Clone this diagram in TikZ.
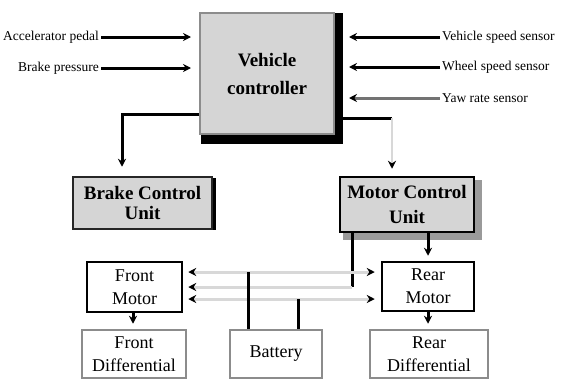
\documentclass[tikz,border=0pt]{standalone}
\usepackage{fontspec}
\setmainfont{Liberation Serif}
\usetikzlibrary{arrows.meta}

\definecolor{boxfill}{HTML}{D5D5D5}
\definecolor{edgegray}{HTML}{8C8C8C}
\definecolor{busgray}{HTML}{D8D8D8}
\definecolor{shadowgray}{HTML}{9A9A9A}

\begin{document}
\begin{tikzpicture}[x=1pt,y=-1pt,
  sidelabel/.style={font=\fontsize{13.5}{16}\selectfont, inner sep=2pt},
  unitbox/.style={fill=boxfill, align=center, inner sep=0pt,
    font=\bfseries\fontsize{19}{20}\selectfont},
  partbox/.style={fill=white, line width=2.5pt, align=center, inner sep=0pt,
    font=\fontsize{18}{23}\selectfont},
  tipend/.tip={Stealth[length=8pt,width=8pt,color=black]},
  sig/.style={line width=3pt, -tipend},
  bus/.style={line width=3pt, draw=busgray},
]
\useasboundingbox (0,0) rectangle (565,383);

% ---- central controller with bevelled edge ----
\node[unitbox, draw=edgegray, line width=2pt, minimum width=134pt, minimum height=121pt,
      font=\bfseries\fontsize{19}{28}\selectfont] (ctrl) at (267,73.5) {Vehicle\\controller};
\fill[black] ([yshift=-1pt]ctrl.north east) rectangle ([xshift=8pt,yshift=-9pt]ctrl.south east);
\fill[black] ([xshift=2pt]ctrl.south west) rectangle ([xshift=8pt,yshift=-9pt]ctrl.south east);

% ---- control units ----
\node[unitbox, draw=black!85, line width=2.5pt, minimum width=139pt, minimum height=52pt] (bcu) at (142.5,203) {Brake Control\\Unit};
\fill[black] ([xshift=-0.5pt,yshift=-2pt]bcu.north east) rectangle ([xshift=3pt]bcu.south east);

\node[unitbox, draw=black, line width=2.5pt, minimum width=134pt, minimum height=55pt,
      font=\bfseries\fontsize{19}{25}\selectfont] (mcu) at (407,204.5) {Motor Control\\Unit};
\fill[shadowgray] ([xshift=-0.5pt,yshift=-4pt]mcu.north east) rectangle ([xshift=7pt,yshift=-7pt]mcu.south east);
\fill[shadowgray] ([xshift=4pt,yshift=0.5pt]mcu.south west) rectangle ([xshift=7pt,yshift=-7pt]mcu.south east);

% ---- drive train parts ----
\node[partbox, draw=black, minimum width=95pt, minimum height=50pt] (fm) at (134.5,287) {Front\\Motor};
\node[partbox, draw=black, minimum width=92pt, minimum height=49pt] (rm) at (428,286.5) {Rear\\Motor};
\node[partbox, draw=edgegray, minimum width=104pt, minimum height=48pt] (fd) at (134,354) {Front\\Differential};
\node[partbox, draw=edgegray, minimum width=92pt, minimum height=48pt] (bat) at (276,354) {Battery};
\node[partbox, draw=edgegray, minimum width=118pt, minimum height=48pt] (rd) at (429,354) {Rear\\Differential};

% ---- input signals ----
\node[sidelabel, anchor=east] (acc) at (101,37) {Accelerator pedal};
\node[sidelabel, anchor=east] (brk) at (101,68) {Brake pressure};
\node[sidelabel, anchor=west] (vss) at (440,37) {Vehicle speed sensor};
\node[sidelabel, anchor=west] (wss) at (440,67) {Wheel speed sensor};
\node[sidelabel, anchor=west] (yaw) at (440,98) {Yaw rate sensor};

\draw[sig, shorten >=8pt] (acc.east) -- (acc.east -| ctrl.west);
\draw[sig, shorten >=8pt] (brk.east) -- (brk.east -| ctrl.west);
\draw[sig, shorten >=14pt] (vss.west) -- (vss.west -| ctrl.east);
\draw[sig, shorten >=14pt] (wss.west) -- (wss.west -| ctrl.east);
\draw[sig, draw=black!55, shorten >=14pt] (yaw.west) -- (yaw.west -| ctrl.east);

% ---- controller to control units ----
\draw[sig, shorten >=9pt] ([yshift=-40.5pt]ctrl.west) -| ([xshift=-20.5pt]bcu.north);
\coordinate (ctrlout) at ([xshift=8pt,yshift=-44.5pt]ctrl.east);
\coordinate (mcuin) at ([xshift=-15pt]mcu.north);
\draw[line width=3pt] (ctrlout) -- (ctrlout -| mcuin);
\draw[line width=2pt, draw=busgray, -tipend, shorten >=7pt] (ctrlout -| mcuin) -- (mcuin);

% ---- motor control unit to motors ----
\draw[sig, shorten >=5pt] (rm.north |- mcu.south) -- (rm.north);
\coordinate (tap) at ([xshift=-55pt]mcu.south |- fm.east);
\draw[line width=3pt] ([xshift=-55pt]mcu.south) -- (tap);
\draw[bus, -tipend, shorten >=5pt] (tap) -- (fm.east);

% ---- battery supply lines ----
\coordinate (supA) at ([yshift=15pt]fm.east);
\coordinate (supB) at ([yshift=-12pt]fm.east);
\draw[bus, tipend-tipend, shorten <=5pt, shorten >=6pt] (supA) -- (supA -| rm.west);
\draw[bus, tipend-tipend, shorten <=5pt, shorten >=6pt] (supB) -- (supB -| rm.west);
\draw[line width=3pt] ([xshift=-28pt]bat.north) -- ([xshift=-28pt]bat.north |- supA);
\draw[line width=3pt] ([xshift=22pt]bat.north) -- ([xshift=22pt]bat.north |- supB);

% ---- motors to differentials ----
\draw[sig, shorten >=5pt] ([xshift=-1.5pt]fm.south) -- ([xshift=-1.5pt]fm.south |- fd.north);
\draw[sig, shorten >=5pt] (rm.south) -- (rm.south |- rd.north);
\end{tikzpicture}
\end{document}
